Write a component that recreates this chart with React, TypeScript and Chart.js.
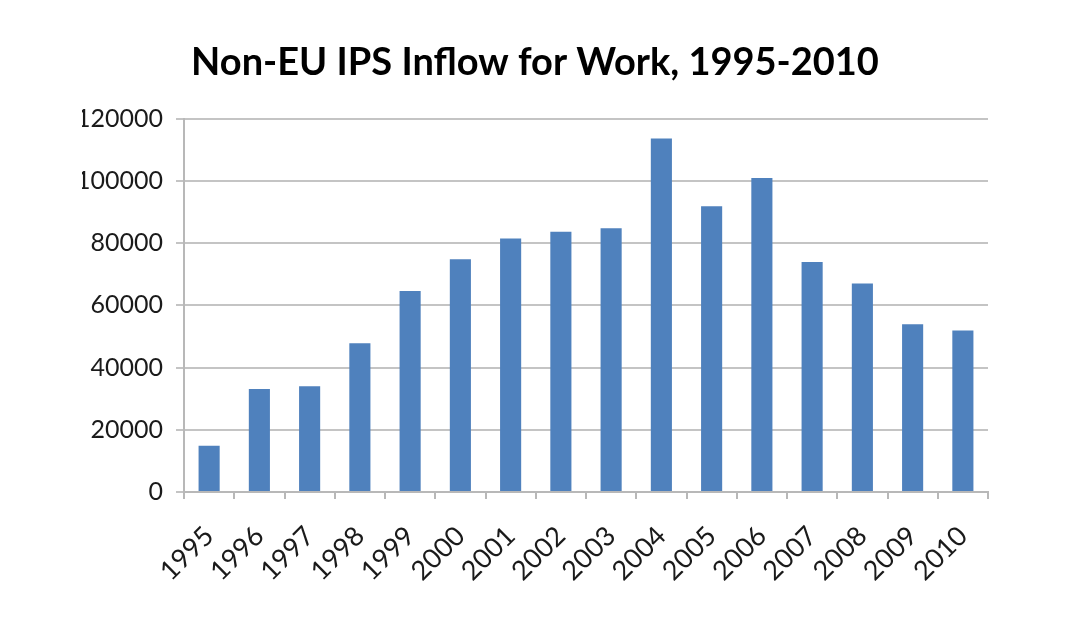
import { useEffect, useRef } from "react";
import Chart from "chart.js/auto";

const years = ["1995", "1996", "1997", "1998", "1999", "2000", "2001", "2002", "2003", "2004", "2005", "2006", "2007", "2008", "2009", "2010"];
const inflow = [14900, 33100, 34000, 47800, 64600, 74800, 81500, 83600, 84800, 113600, 91800, 100900, 73900, 67000, 53900, 51900];
const yTicks = [0, 20000, 40000, 60000, 80000, 100000, 120000];

export default function App() {
  const chartCanvasRef = useRef(null);
  const chartInstance = useRef(null);

  useEffect(() => {
    if (chartInstance.current) {
      chartInstance.current.destroy();
    }
    chartInstance.current = new Chart(chartCanvasRef.current, {
      type: "bar",
      data: {
        labels: years,
        datasets: [
          {
            data: inflow,
            backgroundColor: "#4F81BD",
            barPercentage: 0.42,
            categoryPercentage: 1,
          },
        ],
      },
      options: {
        responsive: true,
        maintainAspectRatio: false,
        animation: false,
        // left padding only re-centres the title over the plot
        layout: { padding: { left: 82, right: 95, top: 0, bottom: 0 } },
        plugins: {
          legend: { display: false },
          tooltip: { enabled: false },
          title: {
            display: true,
            text: "Non-EU IPS Inflow for Work, 1995-2010",
            color: "#000",
            font: { family: "Lato", size: 38, weight: "bold", lineHeight: 1.2 },
            padding: { top: 40, bottom: 33 },
          },
        },
        scales: {
          x: {
            afterFit: (scale) => {
              scale.height = 141;
            },
            grid: {
              offset: true,
              drawOnChartArea: false,
              color: "#b8b8b8",
              tickLength: 7,
              lineWidth: 2,
            },
            border: { color: "#b8b8b8", width: 2 },
            ticks: {
              color: "#1a1a1a",
              font: { family: "Lato", size: 27 },
              minRotation: 45,
              maxRotation: 45,
              padding: 21,
            },
          },
          y: {
            min: 0,
            max: 120000,
            afterFit: (scale) => {
              scale.width = 102;
            },
            afterBuildTicks: (scale) => {
              scale.ticks = yTicks.map((v) => ({ value: v }));
            },
            grid: {
              color: "#c4c4c4",
              lineWidth: 2,
              tickLength: 8,
            },
            border: { color: "#b8b8b8", width: 2 },
            ticks: {
              color: "#1a1a1a",
              font: { family: "Lato", size: 25 },
              padding: 13,
              callback: (v) => String(v),
            },
          },
        },
      },
    });

    return () => {
      if (chartInstance.current) {
        chartInstance.current.destroy();
      }
    };
  }, []);

  return (
    <div style={{ position: "fixed", left: 0, top: 0, width: 1083, height: 633, background: "#fff" }}>
      <canvas ref={chartCanvasRef}></canvas>
    </div>
  );
}
